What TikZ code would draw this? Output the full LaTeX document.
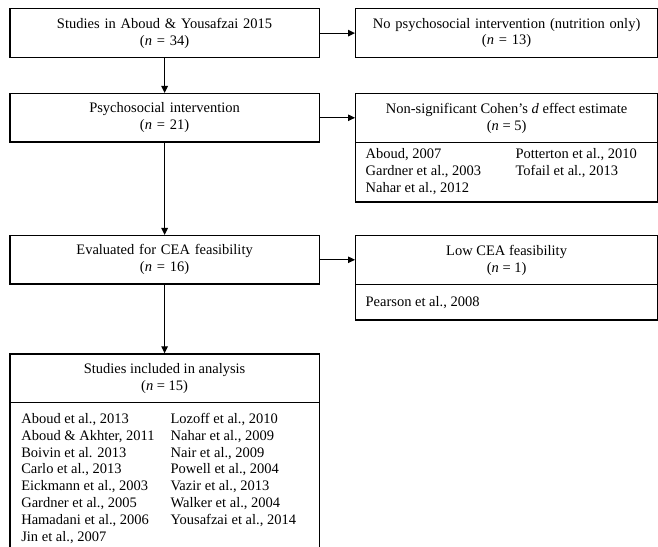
\documentclass[tikz,border=0pt]{standalone}
\usepackage{fontspec}
\setmainfont{Liberation Serif}
\usetikzlibrary{shapes,arrows.meta}

\begin{document}
\begin{tikzpicture}[x=1bp,y=-1bp]
\tikzstyle{box}=[draw, line width=1.2bp, inner sep=0pt, align=center,
  minimum height=48.4bp, font=\fontsize{14.5bp}{16.8bp}\selectfont]
\tikzstyle{lbox}=[box, text width=309.4bp]
\tikzstyle{rbox}=[box, text width=302bp]
\tikzstyle{listbox}=[
  rectangle split,
  rectangle split parts=2,
  draw, line width=1.2bp, inner sep=0pt,
  font=\fontsize{14.5bp}{16.8bp}\selectfont ]
\tikzstyle{arr}=[line width=1.1bp, -{Triangle[length=7bp,width=6.5bp]}]
\useasboundingbox (0,0) rectangle (658,547);

% left column
\node[lbox, anchor=north west] (studies) at (9.3,8.3)
  {Studies in Aboud \& Yousafzai 2015\\(\textit{n} = 34)};
\node[lbox, anchor=north west] (psych) at (9.3,93)
  {Psychosocial intervention\\(\textit{n} = 21)};
\node[lbox, anchor=north west] (evalcea) at (9.3,235)
  {Evaluated for CEA feasibility\\(\textit{n} = 16)};
\node[listbox, anchor=north west] (incl) at (9.3,353.3)
  {\parbox[c][47.7bp][c]{309.4bp}{\centering Studies included in analysis\\(\textit{n} = 15)}
   \nodepart{two}
   \parbox[c][151bp][c]{309.4bp}{\hspace*{11.4bp}\begin{tabular}{@{}p{149.3bp}@{}l@{}}
     Aboud et al., 2013 & Lozoff et al., 2010\\
     Aboud \& Akhter, 2011 & Nahar et al., 2009\\
     Boivin et al. 2013 & Nair et al., 2009\\
     Carlo et al., 2013 & Powell et al., 2004\\
     Eickmann et al., 2003 & Vazir et al., 2013\\
     Gardner et al., 2005 & Walker et al., 2004\\
     Hamadani et al., 2006 & Yousafzai et al., 2014\\
     Jin et al., 2007 &
   \end{tabular}}};

% right column
\node[rbox, anchor=north west] (nonutr) at (355,8.3)
  {No psychosocial intervention (nutrition only)\\(\textit{n} = 13)};
\node[listbox, anchor=north west] (nonsig) at (355,93)
  {\parbox[c][48bp][c]{302bp}{\centering Non-significant Cohen’s \textit{d} effect estimate\\(\textit{n} = 5)}
   \nodepart{two}
   \parbox[c][58bp][c]{302bp}{\hspace*{10bp}\begin{tabular}{@{}p{150bp}@{}l@{}}
     Aboud, 2007 & Potterton et al., 2010\\
     Gardner et al., 2003 & Tofail et al., 2013\\
     Nahar et al., 2012 &
   \end{tabular}}};
\node[listbox, anchor=north west] (lowcea) at (355,235)
  {\parbox[c][48bp][c]{302bp}{\centering Low CEA feasibility\\(\textit{n} = 1)}
   \nodepart{two}
   \parbox[c][34bp][c]{302bp}{\hspace*{10bp}Pearson et al., 2008}};

% arrows
\draw[arr] (studies) -- (nonutr);
\draw[arr] (studies) -- (psych);
\draw[arr] (psych) -- (evalcea);
\draw[arr] (evalcea) -- (incl);
\draw[arr] (psych.east) -- (psych.east -| nonsig.west);
\draw[arr] (evalcea.east) -- (evalcea.east -| lowcea.west);
\end{tikzpicture}
\end{document}
